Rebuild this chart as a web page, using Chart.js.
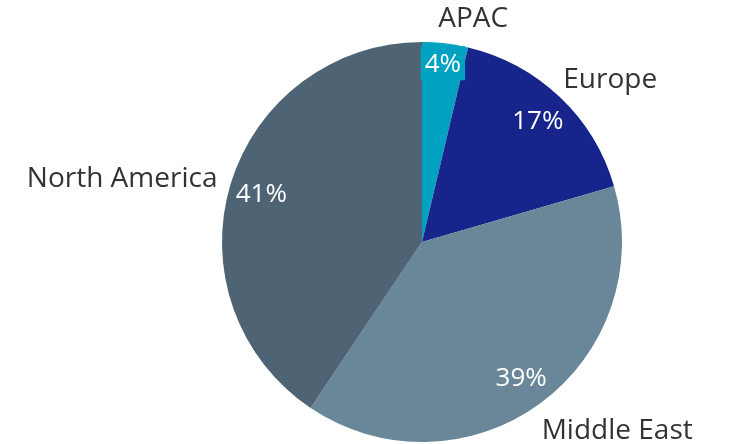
<!DOCTYPE html>
<html>
<head>
<meta charset="utf-8">
<script src="https://cdn.jsdelivr.net/npm/chart.js@4"></script>
<style>
  html, body { margin: 0; padding: 0; background: #fff; }
  #wrap { width: 730px; height: 444px; }
</style>
</head>
<body>
<div id="wrap"><canvas id="regions"></canvas></div>
<script>
const regions = ['APAC', 'Europe', 'Middle East', 'North America'];
const shares = [3.7, 16.8, 38.9, 40.6];
const sliceColors = ['#00a1c1', '#17248b', '#6a8799', '#4e6475'];

const fontFamily = '"Open Sans", Lato, sans-serif';

// draws the % inside each slice and the region name outside
const sliceLabels = {
  id: 'sliceLabels',
  afterDatasetsDraw(chart) {
    const ctx = chart.ctx;
    const meta = chart.getDatasetMeta(0);
    const total = shares.reduce((a, b) => a + b, 0);
    meta.data.forEach((arc, i) => {
      const { x, y, startAngle, endAngle, outerRadius } = arc.getProps(['x', 'y', 'startAngle', 'endAngle', 'outerRadius'], true);
      const mid = (startAngle + endAngle) / 2;
      const dx = Math.cos(mid);
      const dy = Math.sin(mid);

      // percentage
      const pct = Math.round(shares[i] / total * 100) + '%';
      const small = shares[i] < 5;
      const rIn = outerRadius * (small ? 0.9 : 0.84);
      const px = x + dx * rIn;
      const py = y + dy * rIn;
      ctx.save();
      ctx.font = '26px ' + fontFamily;
      ctx.textAlign = 'center';
      ctx.textBaseline = 'middle';
      const tw = ctx.measureText(pct).width;
      if (small) {
        // thin slice: label gets a box in the slice colour
        ctx.fillStyle = sliceColors[i];
        ctx.fillRect(px - tw / 2 - 4, py - 17, tw + 8, 34);
      }
      ctx.fillStyle = '#ffffff';
      ctx.fillText(pct, px, py + 1);

      // region name
      ctx.font = '28px ' + fontFamily;
      const rOut = outerRadius + 18;
      const nh = 22;
      let ox = x + dx * rOut;
      const oy = y + dy * rOut + dy * nh / 2 + 4;
      if (dx >= 0) {
        ctx.textAlign = 'left';
        ox -= 9;
      } else {
        ctx.textAlign = 'right';
        ox += 4;
      }
      ctx.fillStyle = '#333333';
      ctx.fillText(regions[i], ox, oy);
      ctx.restore();
    });
  }
};

new Chart(document.getElementById('regions'), {
  type: 'pie',
  data: {
    labels: regions,
    datasets: [{
      data: shares,
      backgroundColor: sliceColors,
      borderWidth: 0
    }]
  },
  options: {
    responsive: true,
    maintainAspectRatio: false,
    animation: false,
    layout: {
      padding: { top: 42, bottom: 2, left: 222, right: 108 }
    },
    plugins: {
      legend: { display: false },
      tooltip: { enabled: false }
    }
  },
  plugins: [sliceLabels]
});
</script>
</body>
</html>
